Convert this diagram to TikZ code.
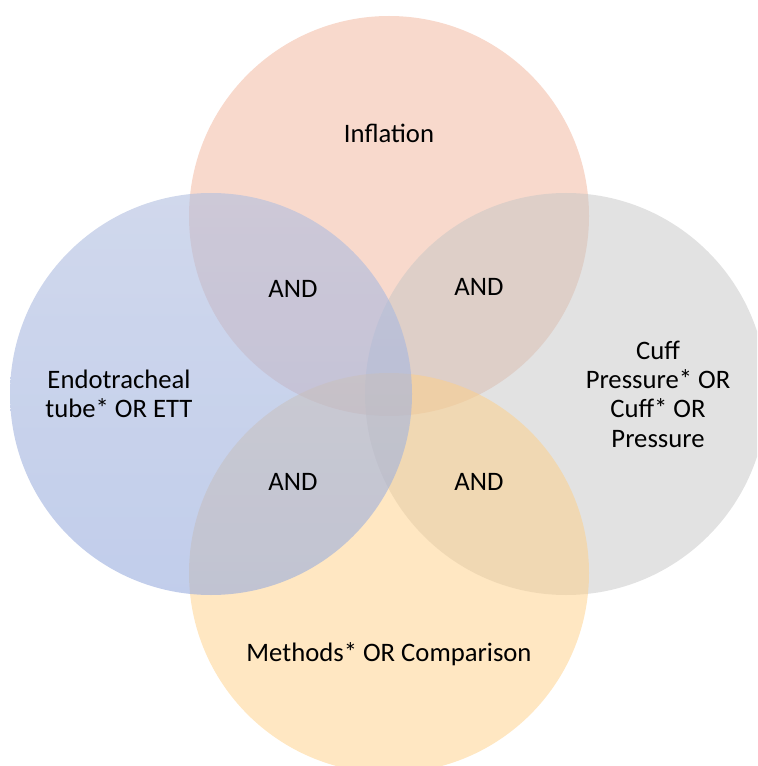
\documentclass[tikz,border=0pt]{standalone}
\usepackage{fontspec}
\setmainfont{Carlito}
\definecolor{cTop}{RGB}{241,179,153}
\definecolor{cLeftT}{RGB}{177,190,223}
\definecolor{cLeftB}{RGB}{152,172,222}
\definecolor{cRight}{RGB}{197,197,197}
\definecolor{cBot}{RGB}{255,207,133}
\tikzset{
  venn/.style={fill opacity=0.5, draw=none},
  lbl/.style={font=\fontsize{20pt}{22pt}\selectfont, text=black, align=center, inner sep=0pt}
}
\begin{document}
\begin{tikzpicture}[x=0.75pt,y=-0.75pt]
\useasboundingbox (0,0) rectangle (757,766);
\begin{scope}
\clip (0,0) rectangle (757,766);
\fill[venn, cTop] (389,216) circle[radius=200];
\fill[venn, cRight] (566,394) circle[radius=201];
\fill[venn, cBot] (389,573) circle[radius=200];
\shade[fill opacity=0.6, top color=cLeftT, bottom color=cLeftB] (211,394) circle[radius=201];
\end{scope}
\node[lbl] (infl) at (389,133) {Inflation};
\node[lbl] (ett) at (119,394) {Endotracheal\\tube* OR ETT};
\node[lbl] (cuff) at (658,394) {Cuff\\Pressure* OR\\Cuff* OR\\Pressure};
\node[lbl] (meth) at (389,654) {Methods* OR Comparison};
\node[lbl] (and1) at (293,289) {AND};
\node[lbl] (and2) at (479,287) {AND};
\node[lbl] (and3) at (293,482) {AND};
\node[lbl] (and4) at (479,482) {AND};
\end{tikzpicture}
\end{document}
